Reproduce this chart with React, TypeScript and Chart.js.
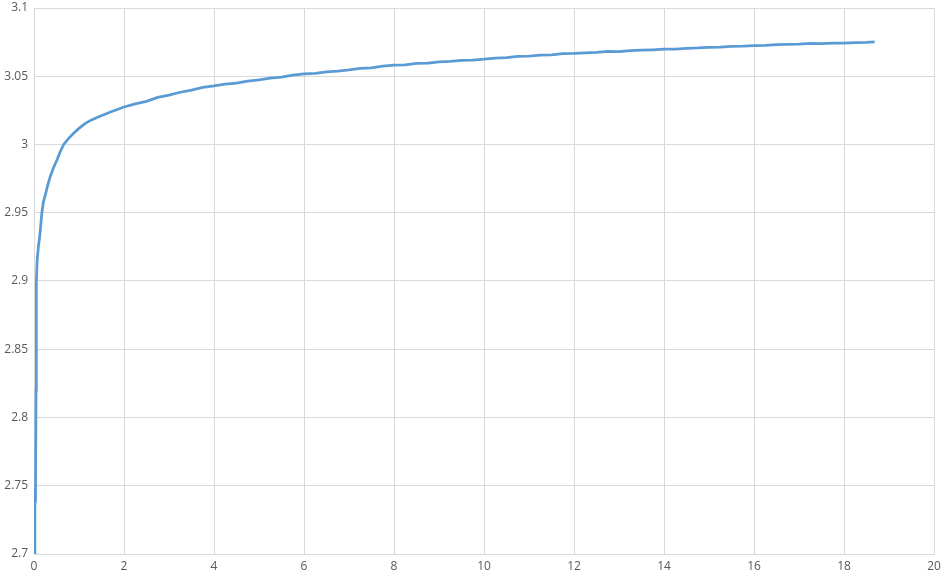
import React, { useEffect, useRef } from "react";
import { Chart, registerables } from "chart.js";

Chart.register(...registerables);

const xValues: number[] = [
  0, 0.02, 0.03, 0.033, 0.045, 0.05, 0.055, 0.07, 0.1, 0.118, 0.14, 0.175, 0.21, 0.26, 0.31, 0.36, 0.43, 0.51, 0.58,
  0.66, 0.77, 0.88, 1.0, 1.14, 1.29, 1.44, 1.7,
  2.0, 2.25, 2.5, 2.75, 3.0, 3.25, 3.5, 3.75, 4.0, 4.25, 4.5, 4.75, 5.0, 5.25, 5.5, 5.75, 6.0, 6.25, 6.5, 6.75,
  7.0, 7.25, 7.5, 7.75, 8.0, 8.25, 8.5, 8.75, 9.0, 9.25, 9.5, 9.75, 10.0, 10.25, 10.5, 10.75, 11.0, 11.25, 11.5,
  11.75, 12.0, 12.25, 12.5, 12.75, 13.0, 13.25, 13.5, 13.75, 14.0, 14.25, 14.5, 14.75, 15.0, 15.25, 15.5, 15.75,
  16.0, 16.25, 16.5, 16.75, 17.0, 17.25, 17.5, 17.75, 18.0, 18.25, 18.5, 18.68,
];

const yValues: number[] = [
  2.7, 2.735, 2.748, 2.738, 2.82, 2.88, 2.9, 2.915, 2.926, 2.93, 2.937, 2.95, 2.958, 2.9642, 2.9708, 2.9764, 2.9828,
  2.9886, 2.9945, 3.0, 3.0045, 3.0082, 3.0118, 3.0155, 3.0182, 3.0204, 3.0238,
  3.0275, 3.0297, 3.0316, 3.0345, 3.0362, 3.0383, 3.0398, 3.0418, 3.0429, 3.0442, 3.0449, 3.0464, 3.0473, 3.0486,
  3.0493, 3.0508, 3.0517, 3.0521, 3.0532, 3.0538, 3.0546, 3.0557, 3.0561, 3.0574, 3.0581, 3.0584, 3.0594, 3.0597,
  3.0606, 3.0609, 3.0617, 3.0619, 3.0625, 3.0633, 3.0636, 3.0645, 3.0647, 3.0655, 3.0657, 3.0665, 3.0667, 3.0671,
  3.0675, 3.0682, 3.068, 3.0688, 3.0691, 3.0694, 3.0698, 3.0699, 3.0705, 3.0707, 3.0712, 3.0714, 3.0719, 3.0721,
  3.0725, 3.0727, 3.0731, 3.0733, 3.0736, 3.0741, 3.0739, 3.0742, 3.0743, 3.0747, 3.0749, 3.0752,
];

const xTickMin = 0;
const xTickMax = 20;
const xTickStep = 2;
const yTickMin = 2.7;
const yTickMax = 3.1;
const yTickStep = 0.05;

export default function App() {
  const canvasRef = useRef<HTMLCanvasElement | null>(null);

  useEffect(() => {
    if (!canvasRef.current) return;
    const points = xValues.map((x, i) => ({ x, y: yValues[i] }));
    const gridColor = "#D9D9D9";
    const tickFont = { family: "'Open Sans', 'Liberation Sans', sans-serif", size: 12 };
    const chart = new Chart(canvasRef.current, {
      type: "scatter",
      data: {
        datasets: [
          {
            data: points,
            showLine: true,
            borderColor: "#5B9BD5",
            backgroundColor: "#5B9BD5",
            borderWidth: 2.75,
            pointRadius: 0,
            tension: 0,
          },
        ],
      },
      options: {
        animation: false,
        responsive: false,
        maintainAspectRatio: false,
        layout: { padding: { top: 8, right: 10, left: 0, bottom: 0 } },
        plugins: { legend: { display: false }, tooltip: { enabled: false } },
        scales: {
          x: {
            type: "linear",
            min: xTickMin,
            max: xTickMax,
            ticks: { stepSize: xTickStep, color: "#595959", font: tickFont, padding: 5 },
            grid: { color: gridColor, drawTicks: false },
            border: { color: gridColor },
            afterFit: (scale: any) => {
              scale.height = 24;
              scale.paddingLeft = 0;
              scale.paddingRight = 0;
            },
          },
          y: {
            type: "linear",
            min: yTickMin,
            max: yTickMax,
            ticks: {
              stepSize: yTickStep,
              color: "#595959",
              font: tickFont,
              padding: 6,
              callback: (v: any) => String(Number(Number(v).toFixed(2))),
            },
            grid: { color: gridColor, drawTicks: false },
            border: { color: gridColor },
            afterFit: (scale: any) => {
              scale.width = 34;
              scale.paddingTop = 0;
              scale.paddingBottom = 0;
            },
          },
        },
      },
    } as any);
    return () => chart.destroy();
  }, []);

  return (
    <div style={{ position: "fixed", left: 0, top: 0, width: 944, height: 578, background: "#fff" }}>
      <canvas ref={canvasRef} width={944} height={578} style={{ width: 944, height: 578, display: "block" }} />
    </div>
  );
}
